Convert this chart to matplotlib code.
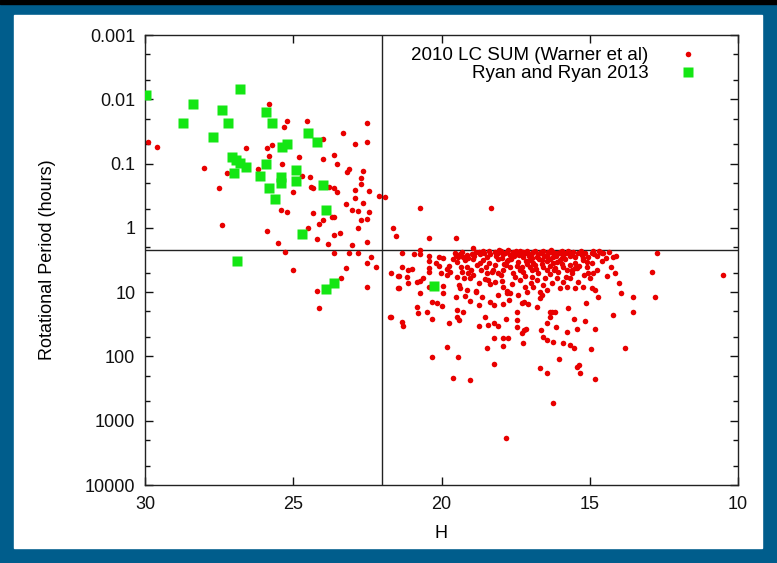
import matplotlib.pyplot as plt
from matplotlib.patches import Rectangle
from matplotlib.ticker import FixedLocator, FuncFormatter, NullLocator

plt.rcParams['font.family'] = ['Liberation Sans', 'DejaVu Sans']

# Ryan and Ryan 2013 (H, period in hours)
ryan_h = [29.95, 28.39, 26.80, 28.71, 27.39, 27.21, 27.70, 25.92, 25.71, 24.51,
          24.21, 25.39, 25.20, 27.08, 26.93, 26.80, 26.59, 27.00, 25.92, 26.12,
          25.41, 25.41, 24.91, 24.91, 25.81, 25.62, 24.01, 23.91, 24.70, 26.91,
          23.63, 23.91, 20.25]
ryan_p = [0.0087, 0.012, 0.0069, 0.023, 0.0147, 0.023, 0.038, 0.016, 0.0236, 0.033,
          0.047, 0.055, 0.050, 0.078, 0.088, 0.099, 0.112, 0.14, 0.10, 0.156,
          0.16, 0.20, 0.126, 0.19, 0.237, 0.36, 0.215, 0.53, 1.26, 3.24,
          7.1, 9.0, 8.0]

# 2010 LC SUM (Warner et al), small fast rotators (H > 22)
warner_small = [
    (29.91, 0.047), (29.61, 0.055), (28.00, 0.118), (27.50, 0.243), (26.60, 0.058),
    (27.22, 0.142), (26.20, 0.121), (25.81, 0.012), (25.22, 0.022), (25.31, 0.027),
    (24.55, 0.022), (24.01, 0.042), (23.31, 0.033), (22.52, 0.023), (22.50, 0.046),
    (22.92, 0.050), (25.90, 0.058), (25.71, 0.051), (25.81, 0.075), (24.81, 0.078),
    (24.01, 0.085), (23.62, 0.074), (23.51, 0.103), (25.39, 0.103), (24.69, 0.156),
    (24.43, 0.163), (23.20, 0.134), (23.12, 0.123), (22.64, 0.129), (22.72, 0.169),
    (22.72, 0.210), (24.41, 0.231), (24.32, 0.237), (23.78, 0.229), (23.63, 0.243),
    (23.51, 0.280), (22.92, 0.258), (22.44, 0.267), (22.11, 0.319), (21.91, 0.327),
    (25.00, 0.274), (23.22, 0.43), (22.92, 0.347), (22.64, 0.405), (25.41, 0.527),
    (25.22, 0.56), (24.32, 0.593), (24.01, 0.755), (24.12, 0.87), (23.70, 0.686),
    (23.62, 0.67), (23.03, 0.527), (22.81, 0.54), (22.44, 0.56), (22.72, 0.755),
    (22.50, 0.736), (22.81, 1.02), (27.39, 0.90), (25.90, 1.11), (24.51, 1.02),
    (24.21, 1.49), (23.62, 1.29), (23.42, 1.21), (25.50, 1.70), (23.82, 1.80),
    (23.03, 1.85), (22.52, 1.64), (25.27, 2.40), (23.62, 2.49), (23.12, 2.49),
    (22.81, 2.43), (22.38, 2.81), (22.52, 3.48), (22.22, 4.02), (23.22, 4.26),
    (25.00, 4.52), (23.40, 6.08), (22.52, 8.40), (24.21, 9.48), (24.12, 17.8),
]

# H < 22, above or near the 2.2 h spin barrier
warner_top = [
    (21.63, 1.02), (21.53, 1.32), (20.73, 0.485), (18.33, 0.485), (20.42, 1.42),
    (19.52, 1.45), (21.32, 2.43), (20.93, 2.55), (20.72, 2.21), (20.72, 2.58),
    (20.42, 2.74), (20.10, 2.80), (19.94, 2.91), (19.51, 2.64), (19.43, 2.87),
    (19.38, 2.55), (19.26, 2.80), (19.15, 2.64), (18.98, 2.58), (18.93, 2.08),
    (18.84, 2.34), (18.70, 2.58), (18.59, 2.26), (18.48, 2.80), (18.36, 2.55),
    (18.20, 2.34), (18.08, 2.49), (18.05, 2.21), (17.91, 2.58), (17.80, 2.34),
    (17.69, 2.64), (17.58, 2.34), (17.46, 2.58), (17.35, 2.26), (17.24, 2.80),
    (17.13, 2.43), (17.01, 2.64), (16.90, 2.34), (16.79, 2.80), (16.68, 2.49),
    (16.57, 2.26), (16.45, 2.64), (16.34, 2.34), (16.23, 2.80), (16.12, 2.49),
    (16.00, 2.34), (15.89, 2.64), (15.55, 2.34), (15.50, 2.80), (15.27, 2.64),
    (15.22, 2.98), (14.94, 2.43), (14.77, 2.74), (14.65, 2.34), (14.54, 2.49),
    (14.20, 2.87), (14.12, 2.74), (12.74, 2.43),
    (18.00, 2.30), (17.85, 2.45), (17.75, 2.25), (17.60, 2.50), (17.50, 2.30),
    (17.40, 2.60), (17.30, 2.35), (17.20, 2.50), (17.10, 2.30), (17.05, 2.75),
    (16.95, 2.45), (16.85, 2.30), (16.75, 2.55), (16.65, 2.35), (16.55, 2.70),
    (16.40, 2.40), (16.30, 2.25), (16.20, 2.60), (16.05, 2.45), (15.95, 2.30),
    (15.80, 2.50), (15.70, 2.35), (15.60, 2.60), (15.40, 2.45), (15.30, 2.30),
    (14.90, 2.30), (14.60, 2.45),
    (19.55, 2.45), (19.30, 2.35), (19.10, 2.90), (18.90, 2.70), (18.75, 2.40),
    (18.55, 2.50), (18.40, 2.30), (18.15, 2.70), (17.95, 2.90), (17.55, 2.75),
    (17.25, 2.35), (16.95, 2.90), (16.60, 2.50), (16.40, 2.90), (16.25, 2.40),
    (16.15, 2.70), (15.95, 2.90), (15.75, 2.30), (15.65, 2.75), (15.15, 2.45),
    (15.05, 2.80), (14.85, 2.55), (14.70, 2.30), (14.35, 2.40), (14.45, 2.90),
]

# H < 22, periods of roughly 3 to 10 h
warner_mid = [
    (21.71, 5.09), (21.46, 5.61), (21.46, 8.71), (21.32, 4.11), (21.12, 4.52),
    (21.00, 4.42), (20.42, 3.24), (20.42, 4.26), (20.41, 4.80), (20.10, 3.92),
    (20.02, 5.09), (19.75, 3.92), (19.71, 4.80), (19.47, 3.35), (19.35, 4.01),
    (19.32, 4.80), (19.15, 4.11), (19.09, 5.09), (18.93, 5.41), (18.70, 3.56),
    (18.68, 4.52), (18.48, 5.09), (18.41, 3.56), (18.25, 4.52), (18.20, 3.78),
    (18.08, 5.09), (17.91, 4.52), (17.82, 3.78), (17.75, 3.16), (17.69, 4.01),
    (17.58, 5.09), (17.41, 3.35), (17.30, 4.01), (17.24, 4.80), (17.13, 3.65),
    (17.01, 3.16), (16.96, 4.52), (16.85, 3.78), (16.73, 5.09), (16.62, 3.16),
    (16.57, 4.01), (16.45, 4.52), (16.34, 5.21), (16.23, 3.56), (16.17, 4.26),
    (16.06, 4.80), (15.95, 3.65), (15.78, 4.52), (15.67, 3.78), (15.61, 5.09),
    (15.44, 4.26), (15.22, 3.16), (15.10, 4.01), (15.05, 4.98), (14.94, 3.56),
    (14.77, 4.52), (14.43, 5.60), (14.15, 5.09), (12.91, 4.80), (10.52, 5.41),
    (21.42, 5.60), (21.15, 5.74), (21.12, 7.11), (20.63, 6.10), (20.72, 6.62),
    (20.84, 6.95), (21.43, 8.71), (20.72, 10.2), (20.41, 8.20), (20.22, 8.01),
    (19.96, 8.01), (19.83, 5.41), (19.49, 5.87), (19.40, 7.73), (19.38, 8.71),
    (19.24, 6.10), (19.04, 6.10), (19.15, 9.25), (18.84, 9.48), (18.72, 7.28),
    (18.53, 6.31), (18.42, 6.47), (18.36, 7.46), (18.20, 6.87), (17.97, 6.62),
    (17.91, 8.20), (17.80, 9.48), (17.69, 10.2), (17.63, 7.46), (17.52, 5.74),
    (17.35, 6.47), (17.18, 8.20), (17.13, 9.82), (16.99, 7.28), (16.90, 8.41),
    (16.79, 6.47), (16.68, 9.82), (16.57, 7.73), (16.45, 9.25), (16.28, 7.28),
    (16.12, 6.10), (16.00, 8.71), (15.89, 6.87), (15.78, 8.20), (15.67, 6.10),
    (15.50, 8.71), (15.39, 6.87), (15.22, 8.20), (14.99, 6.10), (14.94, 8.71),
    (14.82, 9.25), (14.00, 7.28),
    (17.90, 3.60), (17.65, 3.00), (17.45, 3.90), (17.35, 4.60), (17.15, 3.30),
    (17.00, 4.00), (16.90, 3.50), (16.80, 4.30), (16.70, 3.00), (16.60, 3.70),
    (16.45, 3.30), (16.35, 3.90), (16.20, 4.60), (16.10, 3.40), (15.90, 4.10),
    (15.85, 3.00), (15.60, 4.50), (15.50, 3.50), (15.35, 3.90), (15.20, 5.50),
    (18.60, 3.20), (18.80, 3.80), (19.00, 4.60), (18.30, 4.80), (18.10, 3.10),
    (19.60, 3.00), (19.80, 4.30), (20.20, 3.50),
    (19.20, 3.20), (18.95, 3.00), (18.50, 4.00), (18.00, 5.50), (17.80, 3.30),
    (17.20, 5.60), (16.95, 5.90), (16.50, 6.00), (16.35, 3.10), (16.00, 3.20),
    (15.80, 5.80), (15.50, 4.20), (15.10, 3.40), (14.90, 5.00), (14.60, 3.30),
    (14.30, 4.00),
]

# H < 22, slow rotators (> 10 h)
warner_slow = [
    (21.74, 24.1), (20.33, 14.0), (20.16, 14.9), (19.99, 16.2), (19.96, 10.4),
    (19.51, 12.0), (19.47, 18.9), (19.26, 20.1), (19.21, 11.5), (19.04, 13.5),
    (18.84, 9.82), (18.72, 15.8), (18.65, 11.7), (18.36, 14.0), (18.23, 15.8),
    (18.08, 11.1), (17.94, 15.5), (17.78, 10.2), (17.71, 13.2), (17.46, 20.1),
    (17.41, 11.1), (17.30, 14.9), (17.22, 14.0), (17.07, 15.3), (16.79, 16.8),
    (16.68, 12.5), (16.62, 11.1), (16.34, 20.1), (16.17, 20.1), (15.72, 17.4),
    (15.13, 14.6), (14.71, 12.0), (13.95, 10.2), (13.55, 12.0), (12.80, 12.0),
    (13.53, 20.1), (20.84, 17.2), (20.80, 20.8), (20.48, 20.1),
    (21.71, 24.0), (21.32, 28.8), (21.31, 33.2), (20.33, 26.4), (19.74, 30.5),
    (19.47, 24.0), (19.40, 27.1), (18.72, 33.6), (18.53, 24.0), (18.42, 32.4),
    (18.23, 29.8), (18.08, 33.6), (17.82, 26.4), (17.46, 27.1), (17.46, 35.3),
    (17.30, 42.6), (17.22, 38.8), (17.15, 37.9), (16.64, 38.8), (16.57, 49.2),
    (16.45, 29.8), (16.34, 24.0), (16.28, 20.1), (16.14, 34.4), (15.78, 41.1),
    (15.53, 26.4), (15.44, 37.9), (15.16, 27.7), (14.82, 37.9), (14.23, 22.6),
    (18.23, 52.2), (17.94, 52.2), (17.75, 52.2), (18.48, 74.8), (17.91, 68.7),
    (17.24, 61.0), (16.45, 55.5), (16.25, 58.9), (15.89, 61.0), (15.65, 66.3),
    (15.53, 74.8), (14.97, 77.5), (13.81, 74.8), (19.83, 72.1), (20.33, 101),
    (19.43, 101), (16.03, 111), (18.23, 130), (19.62, 216), (19.04, 232),
    (16.68, 150), (16.45, 179), (15.44, 148), (15.35, 136), (15.33, 179),
    (14.82, 227), (16.25, 524), (17.83, 1875),
]

period_ticks = [0.001, 0.01, 0.1, 1, 10, 100, 1000, 10000]
period_minor = [m * t for t in period_ticks[:-1] for m in (2, 5)]
h_ticks = [30, 25, 20, 15, 10]

warner = warner_small + warner_top + warner_mid + warner_slow
warner_h = [p[0] for p in warner]
warner_p = [p[1] for p in warner]

fig = plt.figure(figsize=(7.77, 5.63), dpi=100, facecolor='#005d8c')
fig.add_artist(Rectangle((0, 1 - 4 / 563), 1, 4 / 563, transform=fig.transFigure,
                         color='black', zorder=-10))
fig.add_artist(Rectangle((14 / 777, 15 / 563), 748 / 777, 533 / 563,
                         transform=fig.transFigure, color='white', zorder=-10))
ax = fig.add_axes([145 / 777, 78 / 563, 593 / 777, 450 / 563])

ax.axvline(22, color='#222222', lw=1.0, zorder=1)
ax.axhline(2.2, color='#222222', lw=1.0, zorder=1)
ax.plot(warner_h, warner_p, 'o', color='#e80000', ms=4.0, mec='none', zorder=2,
        label='2010 LC SUM (Warner et al)')
ax.plot(ryan_h, ryan_p, 's', color='#14e614', ms=7.5, mec='none', zorder=3,
        label='Ryan and Ryan 2013')

ax.set_yscale('log')
ax.set_xlim(30, 10)
ax.set_ylim(10000, 0.001)
ax.set_xticks(h_ticks)
ax.xaxis.set_minor_locator(NullLocator())
ax.yaxis.set_major_locator(FixedLocator(period_ticks))
ax.yaxis.set_minor_locator(FixedLocator(period_minor))
ax.yaxis.set_major_formatter(FuncFormatter(lambda v, pos: '{:g}'.format(v)))
ax.tick_params(which='both', direction='in', top=True, right=True, labelsize=13,
               colors='#111111')
ax.tick_params(which='major', length=6, width=1)
ax.tick_params(which='minor', length=3.5, width=1)
ax.tick_params(axis='x', pad=8)
ax.tick_params(axis='y', pad=7)
for s in ax.spines.values():
    s.set_linewidth(1.0)
    s.set_color('#222222')

ax.set_xlabel('H', fontsize=13)
ax.set_ylabel('Rotational Period (hours)', fontsize=13)
ax.xaxis.set_label_coords(0.5, -0.09)
ax.yaxis.set_label_coords(-0.150, 0.5)

ax.legend(loc='upper right', bbox_to_anchor=(0.931, 0.973), frameon=False,
          markerfirst=False, handlelength=1.0, handletextpad=1.6, borderpad=0,
          borderaxespad=0, labelspacing=0.05, fontsize=13.5, numpoints=1)

fig.savefig('out.png', dpi=100, facecolor=fig.get_facecolor())
